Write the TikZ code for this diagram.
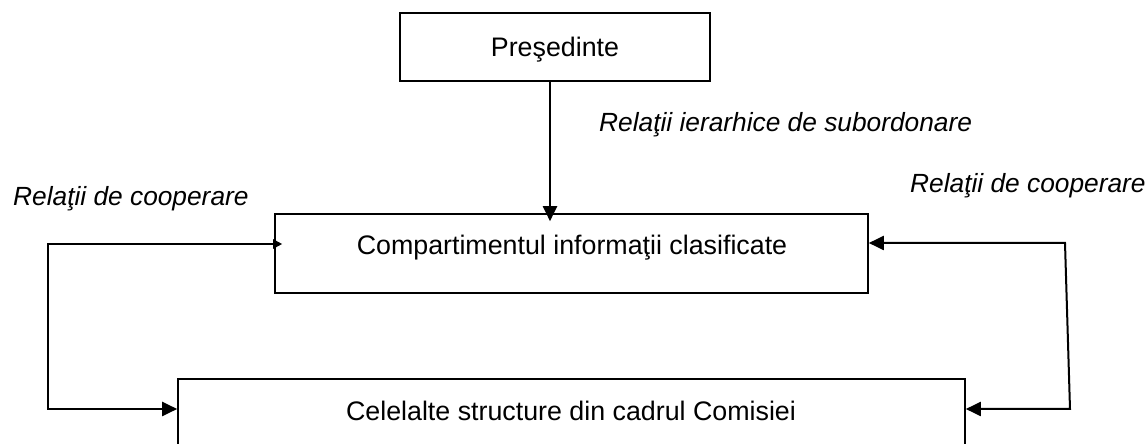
\documentclass[tikz,border=0pt]{standalone}
\usepackage{fontspec}
\setmainfont{Liberation Sans}
\usetikzlibrary{arrows.meta}
\tikzset{
  box/.style={draw=black, line width=1.6bp, rectangle, inner sep=0pt},
  conn/.style={draw=black, line width=2bp},
  bigtip/.style={-{Triangle[length=15bp,width=14bp]}},
  lbl/.style={font=\fontsize{26.8bp}{30bp}\selectfont, anchor=base, inner sep=0pt},
  ital/.style={font=\fontsize{26.3bp}{30bp}\selectfont\itshape, anchor=base west, inner sep=0pt}
}
\begin{document}
\begin{tikzpicture}[x=1bp,y=-1bp]
\useasboundingbox (0,0) rectangle (1148,444);
% boxes
\node[box, minimum width=310bp, minimum height=68bp] (pres) at (555,47) {};
\node[box, minimum width=593bp, minimum height=79bp] (comp) at (571.5,253.5) {};
\node[box, minimum width=787bp, minimum height=100bp] (rest) at (571.5,429) {};
% texts
\node[lbl] (tpres) at (555,57) {Preşedinte};
\node[lbl] (tcomp) at (572,255) {Compartimentul informaţii clasificate};
\node[lbl] (trest) at (571,421) {Celelalte structure din cadrul Comisiei};
\node[ital] (lsub) at (599,132) {Relaţii ierarhice de subordonare};
\node[ital] (lleft) at (13,206) {Relaţii de cooperare};
\node[ital] (lright) at (910,193) {Relaţii de cooperare};
% coordinates for connectors
\coordinate (ptop) at (pres.south -| 550,0);
\coordinate (ctop) at ([yshift=-8bp]comp.north -| 550,0);
\coordinate (lA) at ([xshift=8bp]comp.west |- 0,244);
\coordinate (lB) at (48,244);
\coordinate (lC) at (48,409);
\coordinate (lD) at (rest.west |- 0,409);
\coordinate (rA) at (comp.east |- 0,243);
\coordinate (rB) at (1065,243);
\coordinate (rC) at (1070,409);
\coordinate (rD) at (rest.east |- 0,409);
% connectors
\draw[conn, bigtip] (ptop) -- (ctop);
\draw[conn, {Triangle[length=9bp,width=9bp]}-{Triangle[length=15bp,width=14bp]}] (lA) -- (lB) -- (lC) -- (lD);
\draw[conn, {Triangle[length=15bp,width=14bp]}-{Triangle[length=15bp,width=14bp]}] (rA) -- (rB) -- (rC) -- (rD);
\end{tikzpicture}
\end{document}
